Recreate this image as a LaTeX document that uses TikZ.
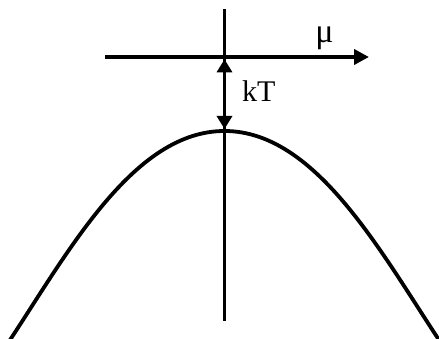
\documentclass[tikz,border=0pt]{standalone}
\usepackage{fontspec}
\setmainfont{Liberation Serif}
\usetikzlibrary{arrows.meta}
\begin{document}
\begin{tikzpicture}[x=1pt,y=1pt,
  thick line/.style={line width=3.8pt},
  tipstyle/.style={-{Triangle[length=15pt,width=15pt]}},
  dbltip/.style={{Triangle[length=13pt,width=15pt]}-{Triangle[length=13pt,width=15pt]}},
  lbl/.style={inner sep=0pt}]
\useasboundingbox (0,0) rectangle (439,339);
% coordinates (y = 339 - pixel row)
\coordinate (vtop) at (224.5,330);
\coordinate (vbot) at (224.5,18);
\coordinate (hleft) at (105,282);
\coordinate (hright) at (369,282);
\coordinate (kttop) at (224.5,279.7);
\coordinate (ktbot) at (224.5,210);
\coordinate (cleft) at (10,-1);
\coordinate (cpeak) at (224.5,208);
\coordinate (cright) at (439,-1);
% axes
\draw[thick line] (vtop) -- (vbot);
\draw[thick line, tipstyle] (hleft) -- (hright);
% kT double arrow
\draw[thick line, dbltip] (kttop) -- (ktbot);
% labels
\node[lbl, font=\fontsize{30}{30}\selectfont, anchor=base west] (kt) at (242,237.5) {kT};
\node[lbl, font=\fontsize{34}{34}\selectfont, anchor=base] (mu) at (324.5,296) {μ};
% curve
\draw[thick line, line join=round]
  (cleft) .. controls (70,90.2) and (134.5,208) .. (cpeak)
          .. controls (314.5,208) and (379,90.2) .. (cright);
\end{tikzpicture}
\end{document}
